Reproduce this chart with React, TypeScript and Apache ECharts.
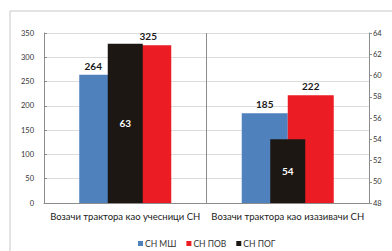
import React, { useEffect, useRef } from "react";
import * as echarts from "echarts";

const categories = ["Возачи трактора као учесници СН", "Возачи трактора као изазивачи СН"];
const seriesNames = ["СН МШ", "СН ПОВ", "СН ПОГ"];
const valuesMS = [264, 185];
const valuesPOV = [325, 222];
const valuesPOG = [63, 54];
const leftTicks = { min: 0, max: 350, interval: 50 };
const rightTicks = { min: 48, max: 64, interval: 2 };

const FONT = "Lato, 'Open Sans', sans-serif";

export default function App() {
  const ref = useRef<HTMLDivElement>(null);
  useEffect(() => {
    if (!ref.current) return;
    const chart = echarts.init(ref.current, undefined, { renderer: "svg" });
    const valueLabel = {
      show: true,
      position: "top" as const,
      distance: 4,
      fontFamily: FONT,
      fontWeight: "bold" as const,
      fontSize: 10,
      color: "#1a1a1a",
    };
    chart.setOption({
      animation: false,
      backgroundColor: "#ffffff",
      textStyle: { fontFamily: FONT },
      graphic: [
        {
          type: "rect",
          shape: { x: 10, y: 11, width: 420, height: 280 },
          style: { fill: "none", stroke: "#c8c8c8", lineWidth: 1 },
          silent: true,
          z: -1,
        },
      ],
      grid: { left: 44, right: 23, top: 33, bottom: 48, containLabel: false },
      legend: {
        data: seriesNames,
        left: 133,
        top: 234,
        itemWidth: 5,
        itemHeight: 5,
        itemGap: 10,
        icon: "rect",
        textStyle: { fontSize: 8.5, color: "#333", fontFamily: FONT, padding: [0, 0, 0, -3] },
      },
      xAxis: [
        {
          type: "category",
          data: categories,
          axisLine: { lineStyle: { color: "#8c8c8c" } },
          axisTick: { show: false },
          splitLine: { show: true, lineStyle: { color: "#8c8c8c" } },
          axisLabel: { fontSize: 9.5, color: "#222", margin: 8, fontFamily: FONT, interval: 0 },
        },
        {
          type: "category",
          data: categories,
          show: false,
        },
      ],
      yAxis: [
        {
          type: "value",
          ...leftTicks,
          axisLine: { show: true, lineStyle: { color: "#8c8c8c" } },
          axisTick: { show: true, inside: true, length: 3, lineStyle: { color: "#8c8c8c" } },
          splitLine: { show: true, lineStyle: { color: "#dcdcdc" } },
          axisLabel: { fontSize: 7.5, color: "#333", margin: 10, fontFamily: FONT },
        },
        {
          type: "value",
          ...rightTicks,
          position: "right",
          axisLine: { show: true, lineStyle: { color: "#8c8c8c" } },
          axisTick: { show: true, length: 3, lineStyle: { color: "#8c8c8c" } },
          splitLine: { show: false },
          axisLabel: { fontSize: 7.5, color: "#333", margin: 4, fontFamily: FONT },
        },
      ],
      series: [
        {
          name: seriesNames[0],
          type: "bar",
          xAxisIndex: 0,
          yAxisIndex: 0,
          barWidth: 46,
          barGap: "0%",
          itemStyle: { color: "#4f81bd" },
          data: valuesMS.map((v, i) => ({
            value: v,
            label: i === 0 ? { offset: [-9, 0] } : {},
          })),
          label: valueLabel,
        },
        {
          name: seriesNames[1],
          type: "bar",
          xAxisIndex: 0,
          yAxisIndex: 0,
          barWidth: 46,
          barGap: "0%",
          itemStyle: { color: "#ec1c24" },
          data: valuesPOV,
          label: valueLabel,
        },
        {
          name: seriesNames[2],
          type: "bar",
          xAxisIndex: 1,
          yAxisIndex: 1,
          barWidth: 35,
          z: 5,
          itemStyle: { color: "#1c1712" },
          data: valuesPOG,
          label: {
            show: true,
            position: "inside",
            fontFamily: FONT,
            fontWeight: "bold",
            fontSize: 10,
            color: "#ffffff",
          },
        },
      ],
    });
    return () => chart.dispose();
  }, []);
  return (
    <div
      ref={ref}
      style={{ position: "fixed", left: 0, top: 0, width: 392, height: 251, overflow: "hidden", background: "#fff" }}
    />
  );
}
